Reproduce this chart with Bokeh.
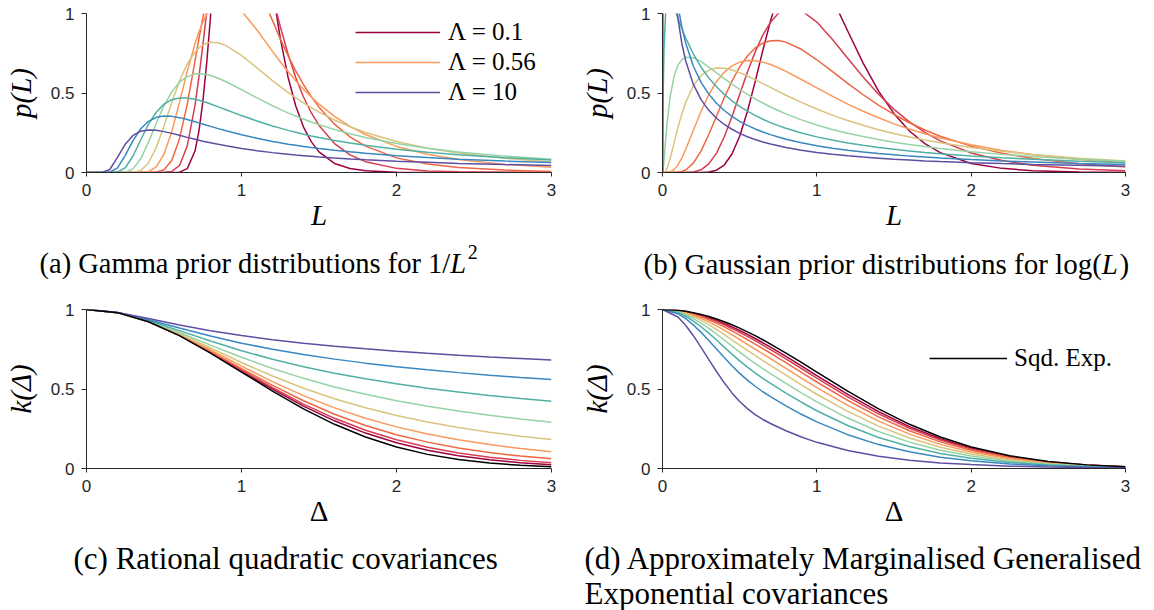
from bokeh.embed import file_html
from bokeh.resources import INLINE
from bokeh.layouts import column, row
from bokeh.models import Range1d, FixedTicker, Legend, LegendItem, Label
from bokeh.plotting import figure

# ---------------------------------------------------------------- data
# Prior scale values Λ, one curve per value, drawn in this colour order.
LAMBDA = [0.1, 0.178, 0.316, 0.562, 1.0, 1.78, 3.16, 5.62, 10.0]
LINE_COLORS = ["#9e0142", "#d53e4f", "#ef6643", "#f99a5a", "#d8c47e",
               "#95d3a5", "#50b0a4", "#3987c0", "#5e4fa2"]

X_TICKS = [0, 1, 2, 3]
X_TICK_LABELS = ["0", "1", "2", "3"]
Y_TICKS = [0, 0.5, 1]
Y_TICK_LABELS = ["0", "0.5", "1"]

LEGEND_A = [("Λ = 0.1", 0), ("Λ = 0.56", 3), ("Λ = 10", 8)]
LEGEND_D = "Sqd. Exp."

# captions as (text, style) runs
CAPTION_A = [("(a) Gamma prior distributions for 1/", "normal"), ("L", "italic"), ("2", "sup")]
CAPTION_B = [("(b) Gaussian prior distributions for log(", "normal"), ("L", "italic"), (")", "normal")]
CAPTION_C = [("(c) Rational quadratic covariances", "normal")]
CAPTION_D1 = [("(d) Approximately Marginalised Generalised", "normal")]
CAPTION_D2 = [("Exponential covariances", "normal")]

# (a) p(L) under Gamma priors on 1/L^2
L_A = [0, 0.1, 0.15, 0.2, 0.25, 0.3, 0.35, 0.4, 0.45, 0.5, 0.55, 0.6, 0.65, 0.7,
       0.725, 0.75, 0.775, 0.8, 0.85, 0.9, 1.0, 1.1, 1.2, 1.25, 1.3, 1.35, 1.4,
       1.45, 1.5, 1.6, 1.7, 1.8, 2.0, 2.2, 2.4, 2.7, 3.0]
PA_0_1 = [0, 0, 0, 0, 0, 0, 0, 0, 0, 0, 0.0001, 0.0022, 0.0246, 0.135, 0.258,
          0.441, 0.684, 0.978, 1.631, 2.19, 2.50, 1.92, 1.155, 0.845, 0.601,
          0.418, 0.286, 0.194, 0.130, 0.057, 0.025, 0.011, 0.002, 0.0005, 0, 0, 0]
PA_0_18 = [0, 0, 0, 0, 0, 0, 0, 0, 0, 0.0004, 0.0066, 0.044, 0.167, 0.422,
           0.598, 0.796, 1.005, 1.212, 1.573, 1.811, 1.864, 1.539, 1.114, 0.918,
           0.745, 0.598, 0.475, 0.376, 0.296, 0.182, 0.111, 0.068, 0.026,
           0.010, 0.004, 0.001, 0.0004]
PA_0_32 = [0, 0, 0, 0, 0, 0, 0, 0.0001, 0.0019, 0.0168, 0.075, 0.211, 0.430,
           0.701, 0.839, 0.971, 1.092, 1.196, 1.349, 1.424, 1.382, 1.190, 0.955,
           0.841, 0.735, 0.639, 0.553, 0.477, 0.411, 0.304, 0.224, 0.166,
           0.092, 0.053, 0.031, 0.015, 0.007]
PA_0_56 = [0, 0, 0, 0, 0, 0, 0.0004, 0.0058, 0.035, 0.115, 0.256, 0.441, 0.636,
           0.810, 0.883, 0.945, 0.994, 1.032, 1.076, 1.082, 1.016, 0.896, 0.762,
           0.697, 0.635, 0.577, 0.524, 0.475, 0.430, 0.353, 0.290, 0.239,
           0.164, 0.115, 0.082, 0.051, 0.033]
PA_1 = [0, 0, 0, 0, 0, 0.0011, 0.013, 0.060, 0.157, 0.293, 0.441, 0.576, 0.683,
        0.758, 0.783, 0.801, 0.813, 0.819, 0.816, 0.798, 0.736, 0.658, 0.578,
        0.540, 0.504, 0.470, 0.438, 0.408, 0.380, 0.330, 0.288, 0.252, 0.195,
        0.153, 0.122, 0.089, 0.066]
PA_1_8 = [0, 0, 0, 0, 0.002, 0.023, 0.086, 0.191, 0.310, 0.421, 0.507, 0.568,
          0.603, 0.619, 0.621, 0.620, 0.616, 0.610, 0.593, 0.571, 0.521, 0.469,
          0.420, 0.397, 0.375, 0.355, 0.336, 0.318, 0.301, 0.270, 0.244, 0.220,
          0.182, 0.152, 0.129, 0.103, 0.083]
PA_3_2 = [0, 0, 0, 0.0025, 0.030, 0.104, 0.206, 0.304, 0.379, 0.430, 0.458,
          0.469, 0.469, 0.461, 0.455, 0.447, 0.440, 0.431, 0.413, 0.395, 0.358,
          0.324, 0.293, 0.279, 0.265, 0.253, 0.241, 0.230, 0.220, 0.201, 0.185,
          0.171, 0.146, 0.127, 0.111, 0.093, 0.079]
PA_5_6 = [0, 0, 0.0014, 0.029, 0.108, 0.201, 0.275, 0.322, 0.347, 0.356, 0.353,
          0.345, 0.333, 0.319, 0.312, 0.305, 0.297, 0.290, 0.276, 0.262, 0.237,
          0.215, 0.195, 0.187, 0.178, 0.171, 0.164, 0.157, 0.151, 0.140, 0.130,
          0.121, 0.106, 0.094, 0.084, 0.072, 0.063]
PA_10 = [0, 0.0001, 0.019, 0.095, 0.178, 0.233, 0.260, 0.268, 0.266, 0.257,
         0.246, 0.234, 0.221, 0.209, 0.203, 0.197, 0.192, 0.187, 0.177, 0.168,
         0.151, 0.137, 0.125, 0.120, 0.115, 0.110, 0.106, 0.102, 0.098, 0.091,
         0.085, 0.080, 0.071, 0.064, 0.057, 0.050, 0.044]

# (b) p(L) under Gaussian priors on log(L)
L_B = [0, 0.005, 0.01, 0.02, 0.03, 0.05, 0.075, 0.1, 0.125, 0.15, 0.2, 0.25,
       0.3, 0.35, 0.4, 0.45, 0.5, 0.55, 0.6, 0.65, 0.7, 0.75, 0.8, 0.9, 1.0,
       1.1, 1.2, 1.3, 1.4, 1.5, 1.6, 1.7, 1.8, 2.0, 2.2, 2.4, 2.7, 3.0]
PB_0_1 = [0, 0, 0, 0, 0, 0, 0, 0, 0, 0, 0, 0.0003, 0.003, 0.0146, 0.047, 0.116,
          0.228, 0.384, 0.570, 0.767, 0.954, 1.112, 1.229, 1.326, 1.262, 1.096,
          0.890, 0.688, 0.512, 0.370, 0.261, 0.182, 0.125, 0.057, 0.026, 0.011,
          0.003, 0.001]
PB_0_18 = [0, 0, 0, 0, 0, 0, 0, 0, 0, 0.0003, 0.0033, 0.017, 0.054, 0.122,
           0.223, 0.350, 0.490, 0.630, 0.757, 0.864, 0.945, 1.000, 1.028, 1.019,
           0.946, 0.838, 0.718, 0.600, 0.492, 0.397, 0.318, 0.252, 0.199, 0.123,
           0.075, 0.046, 0.022, 0.011]
PB_0_32 = [0, 0, 0, 0, 0, 0, 0.0002, 0.0016, 0.006, 0.016, 0.059, 0.136, 0.239,
           0.355, 0.470, 0.575, 0.664, 0.733, 0.783, 0.814, 0.829, 0.830, 0.820,
           0.775, 0.709, 0.636, 0.561, 0.489, 0.424, 0.365, 0.313, 0.267, 0.228,
           0.166, 0.121, 0.088, 0.055, 0.035]
PB_0_56 = [0, 0, 0, 0, 0.0003, 0.0036, 0.018, 0.048, 0.091, 0.145, 0.266, 0.385,
           0.489, 0.571, 0.630, 0.671, 0.694, 0.704, 0.703, 0.694, 0.679, 0.659,
           0.636, 0.585, 0.532, 0.480, 0.430, 0.385, 0.344, 0.306, 0.273, 0.244,
           0.217, 0.174, 0.139, 0.112, 0.082, 0.061]
PB_1 = [0, 0.0001, 0.001, 0.0095, 0.028, 0.090, 0.186, 0.282, 0.367, 0.440,
        0.546, 0.610, 0.644, 0.657, 0.655, 0.645, 0.628, 0.607, 0.584, 0.559,
        0.535, 0.510, 0.486, 0.441, 0.399, 0.361, 0.327, 0.297, 0.269, 0.245,
        0.223, 0.204, 0.187, 0.157, 0.133, 0.113, 0.090, 0.073]
PB_1_8 = [0, 0.022, 0.077, 0.202, 0.314, 0.480, 0.605, 0.674, 0.710, 0.725,
          0.722, 0.697, 0.663, 0.627, 0.591, 0.556, 0.523, 0.492, 0.463, 0.437,
          0.412, 0.390, 0.369, 0.331, 0.299, 0.271, 0.247, 0.226, 0.207, 0.190,
          0.176, 0.163, 0.151, 0.131, 0.114, 0.101, 0.084, 0.071]
PB_3_2 = [0, 0.530, 0.785, 0.998, 1.070, 1.086, 1.035, 0.970, 0.906, 0.847,
          0.745, 0.662, 0.595, 0.539, 0.491, 0.451, 0.416, 0.386, 0.359, 0.335,
          0.314, 0.295, 0.278, 0.249, 0.224, 0.204, 0.186, 0.171, 0.157, 0.146,
          0.135, 0.126, 0.118, 0.104, 0.092, 0.083, 0.071, 0.062]
PB_5_6 = [0, 2.77, 2.55, 2.16, 1.88, 1.52, 1.235, 1.050, 0.916, 0.814, 0.668,
          0.567, 0.493, 0.436, 0.390, 0.353, 0.322, 0.296, 0.274, 0.255, 0.238,
          0.223, 0.209, 0.187, 0.168, 0.153, 0.140, 0.129, 0.119, 0.111, 0.103,
          0.097, 0.091, 0.081, 0.072, 0.066, 0.057, 0.050]
PB_10 = [0, 6.20, 4.37, 2.94, 2.27, 1.61, 1.203, 0.968, 0.813, 0.703, 0.554,
         0.458, 0.391, 0.341, 0.302, 0.272, 0.246, 0.225, 0.208, 0.192, 0.179,
         0.168, 0.157, 0.140, 0.126, 0.115, 0.105, 0.097, 0.090, 0.083, 0.078,
         0.073, 0.069, 0.062, 0.056, 0.051, 0.045, 0.040]

# (c) rational quadratic covariances k(Δ)
D_C = [0, 0.2, 0.4, 0.6, 0.8, 1.0, 1.2, 1.4, 1.6, 1.8, 2.0, 2.2, 2.4, 2.6, 2.8, 3.0]
KC_0_1 = [1, 0.9802, 0.9234, 0.8366, 0.7298, 0.6139, 0.4989, 0.3926, 0.2999,
          0.2228, 0.1615, 0.1145, 0.0796, 0.0544, 0.0366, 0.0243]
KC_0_18 = [1, 0.9802, 0.9236, 0.8376, 0.7325, 0.6194, 0.5079, 0.4052, 0.3156,
           0.2408, 0.1807, 0.1336, 0.0977, 0.0709, 0.0511, 0.0367]
KC_0_32 = [1, 0.9803, 0.9240, 0.8394, 0.7372, 0.6286, 0.5227, 0.4259, 0.3414,
           0.2704, 0.2123, 0.1658, 0.1291, 0.1004, 0.0781, 0.0609]
KC_0_56 = [1, 0.9803, 0.9247, 0.8424, 0.7451, 0.6436, 0.5463, 0.4581, 0.3813,
           0.3161, 0.2618, 0.2171, 0.1804, 0.1505, 0.1261, 0.1061]
KC_1 = [1, 0.9804, 0.9259, 0.8475, 0.7576, 0.6667, 0.5814, 0.5051, 0.4386,
        0.3817, 0.3333, 0.2924, 0.2577, 0.2283, 0.2033, 0.1818]
KC_1_8 = [1, 0.9805, 0.9279, 0.8554, 0.7762, 0.6993, 0.6290, 0.5670, 0.5131,
          0.4665, 0.4262, 0.3913, 0.3610, 0.3345, 0.3112, 0.2906]
KC_3_2 = [1, 0.9808, 0.9312, 0.8672, 0.8017, 0.7409, 0.6871, 0.6401, 0.5993,
          0.5638, 0.5328, 0.5054, 0.4812, 0.4596, 0.4402, 0.4227]
KC_5_6 = [1, 0.9812, 0.9361, 0.8831, 0.8327, 0.7882, 0.7498, 0.7167, 0.6879,
          0.6627, 0.6405, 0.6207, 0.6030, 0.5870, 0.5724, 0.5591]
KC_10 = [1, 0.9819, 0.9429, 0.9022, 0.8663, 0.8360, 0.8103, 0.7882, 0.7691,
         0.7524, 0.7375, 0.7242, 0.7122, 0.7012, 0.6912, 0.6819]
KC_SE = [1, 0.9802, 0.9231, 0.8353, 0.7261, 0.6065, 0.4868, 0.3753, 0.2780,
         0.1979, 0.1353, 0.0889, 0.0561, 0.0340, 0.0198, 0.0111]

# (d) approximately marginalised generalised exponential covariances k(Δ)
D_D = [0, 0.1, 0.15, 0.2, 0.25, 0.3, 0.35, 0.4, 0.45, 0.5, 0.55, 0.6, 0.65, 0.7,
       0.8, 0.9, 1.0, 1.2, 1.4, 1.6, 1.8, 2.0, 2.25, 2.5, 2.75, 3.0]
KD_0_1 = [1, 0.9941, 0.9869, 0.9769, 0.9643, 0.9492, 0.9318, 0.9123, 0.8909,
          0.8678, 0.8433, 0.8175, 0.7907, 0.7630, 0.7052, 0.6453, 0.5847,
          0.4661, 0.3573, 0.2635, 0.1868, 0.1277, 0.0750, 0.0416, 0.0216, 0.0106]
KD_0_18 = [1, 0.9934, 0.9854, 0.9743, 0.9604, 0.9439, 0.9249, 0.9038, 0.8808,
           0.8563, 0.8306, 0.8038, 0.7762, 0.7479, 0.6893, 0.6290, 0.5684,
           0.4509, 0.3441, 0.2529, 0.1788, 0.1222, 0.0717, 0.0399, 0.0208, 0.0103]
KD_0_32 = [1, 0.9923, 0.9830, 0.9702, 0.9542, 0.9354, 0.9140, 0.8904, 0.8650,
           0.8384, 0.8109, 0.7827, 0.7539, 0.7249, 0.6652, 0.6044, 0.5440,
           0.4284, 0.3247, 0.2375, 0.1673, 0.1143, 0.0670, 0.0374, 0.0196, 0.0098]
KD_0_56 = [1, 0.9906, 0.9791, 0.9637, 0.9446, 0.9222, 0.8971, 0.8698, 0.8410,
           0.8113, 0.7813, 0.7511, 0.7208, 0.6909, 0.6300, 0.5690, 0.5091,
           0.3967, 0.2979, 0.2164, 0.1516, 0.1035, 0.0607, 0.0341, 0.0180, 0.0091]
KD_1 = [1, 0.9881, 0.9739, 0.9548, 0.9315, 0.9044, 0.8747, 0.8427, 0.8095,
        0.7762, 0.7434, 0.7108, 0.6790, 0.6482, 0.5866, 0.5257, 0.4670, 0.3593,
        0.2667, 0.1921, 0.1338, 0.0915, 0.0535, 0.0304, 0.0162, 0.0084]
KD_1_8 = [1, 0.9849, 0.9670, 0.9432, 0.9144, 0.8815, 0.8459, 0.8081, 0.7700,
          0.7323, 0.6964, 0.6617, 0.6285, 0.5971, 0.5352, 0.4754, 0.4187,
          0.3173, 0.2325, 0.1659, 0.1147, 0.0786, 0.0460, 0.0265, 0.0142, 0.0075]
KD_3_2 = [1, 0.9805, 0.9576, 0.9275, 0.8916, 0.8511, 0.8082, 0.7635, 0.7194,
          0.6771, 0.6380, 0.6011, 0.5669, 0.5354, 0.4745, 0.4168, 0.3633,
          0.2704, 0.1951, 0.1378, 0.0945, 0.0650, 0.0381, 0.0223, 0.0122, 0.0066]
KD_5_6 = [1, 0.9734, 0.9426, 0.9029, 0.8563, 0.8048, 0.7516, 0.6977, 0.6460,
          0.5984, 0.5559, 0.5173, 0.4827, 0.4521, 0.3942, 0.3409, 0.2929,
          0.2127, 0.1503, 0.1048, 0.0712, 0.0493, 0.0290, 0.0174, 0.0097, 0.0055]
KD_10 = [1, 0.9531, 0.9006, 0.8353, 0.7619, 0.6850, 0.6102, 0.5389, 0.4754,
         0.4212, 0.3769, 0.3394, 0.3083, 0.2830, 0.2374, 0.1979, 0.1645, 0.1131,
         0.0764, 0.0519, 0.0348, 0.0247, 0.0148, 0.0095, 0.0057, 0.0035]
KD_SE = [1, 0.9950, 0.9888, 0.9802, 0.9692, 0.9560, 0.9406, 0.9231, 0.9037,
         0.8825, 0.8596, 0.8353, 0.8096, 0.7827, 0.7261, 0.6670, 0.6065, 0.4868,
         0.3753, 0.2780, 0.1979, 0.1353, 0.0796, 0.0439, 0.0228, 0.0111]

SERIES_A = [PA_0_1, PA_0_18, PA_0_32, PA_0_56, PA_1, PA_1_8, PA_3_2, PA_5_6, PA_10]
SERIES_B = [PB_0_1, PB_0_18, PB_0_32, PB_0_56, PB_1, PB_1_8, PB_3_2, PB_5_6, PB_10]
SERIES_C = [KC_0_1, KC_0_18, KC_0_32, KC_0_56, KC_1, KC_1_8, KC_3_2, KC_5_6, KC_10]
SERIES_D = [KD_0_1, KD_0_18, KD_0_32, KD_0_56, KD_1, KD_1_8, KD_3_2, KD_5_6, KD_10]

# ---------------------------------------------------------------- styling
AXIS_GRAY = "#262626"
SERIF = "Liberation Serif"
SANS = "Liberation Sans"
LINE_W = 1.5
# advance widths (em) of the Liberation Serif glyphs used in the captions
GLYPH_EM = {"(": 0.333, ")": 0.333, " ": 0.25, "/": 0.278, "1": 0.5, "2": 0.5,
            "a": 0.444, "b": 0.5, "c": 0.444, "d": 0.5, "e": 0.444, "f": 0.333,
            "g": 0.5, "i": 0.278, "l": 0.278, "m": 0.778, "n": 0.5, "o": 0.5,
            "p": 0.5, "r": 0.333, "s": 0.389, "t": 0.278, "u": 0.5, "G": 0.722,
            "L": 0.556}


def make_panel(height, border, xlabel, ylabel, xlabel_style):
    left, right, top, bottom = border
    p = figure(width=577, height=height, x_range=Range1d(0, 3), y_range=Range1d(0, 1),
               output_backend="svg", toolbar_location=None,
               min_border_left=left, min_border_right=right,
               min_border_top=top, min_border_bottom=bottom)
    p.outline_line_color = None
    p.xgrid.visible = False
    p.ygrid.visible = False
    p.background_fill_color = "white"
    p.border_fill_color = "white"

    p.xaxis.ticker = FixedTicker(ticks=X_TICKS)
    p.xaxis.major_label_overrides = dict(zip(X_TICKS, X_TICK_LABELS))
    p.yaxis.ticker = FixedTicker(ticks=Y_TICKS)
    p.yaxis.major_label_overrides = dict(zip(Y_TICKS, Y_TICK_LABELS))
    for ax in (p.xaxis[0], p.yaxis[0]):
        ax.axis_line_color = AXIS_GRAY
        ax.axis_line_width = 1
        ax.major_tick_line_color = AXIS_GRAY
        ax.minor_tick_line_color = None
        ax.major_tick_in = 0
        ax.major_label_text_font = SANS
        ax.major_label_text_font_size = "17px"
        ax.major_label_text_color = AXIS_GRAY
        ax.major_label_standoff = 7
        ax.axis_label_text_font = SERIF
        ax.axis_label_text_font_size = "29px"
        ax.axis_label_text_color = "black"
    p.xaxis.major_tick_out = 4
    p.yaxis.major_tick_out = 5
    p.xaxis.axis_label = xlabel
    p.xaxis.axis_label_text_font_style = xlabel_style
    p.xaxis.axis_label_standoff = 0
    p.yaxis.axis_label = ylabel
    p.yaxis.axis_label_text_font_style = "italic"
    p.yaxis.axis_label_standoff = 11
    return p


def draw_family(p, x, series):
    return [p.line(x, ys, line_color=c, line_width=LINE_W)
            for ys, c in zip(series, LINE_COLORS)]


def caption_strip(height, lines):
    """A blank SVG strip holding caption lines; lines = [(x, baseline, size, runs)]."""
    p = figure(width=577, height=height, x_range=Range1d(0, 577), y_range=Range1d(0, height),
               x_axis_type=None, y_axis_type=None, output_backend="svg",
               toolbar_location=None, min_border=0)
    p.outline_line_color = None
    p.background_fill_color = "white"
    p.border_fill_color = "white"
    for x0, y0, base, runs in lines:
        x = x0
        for text, style in runs:
            size = base * (0.7 if style == "sup" else 1.0)
            p.add_layout(Label(x=x, y=y0 + (0.42 * base if style == "sup" else 0), text=text,
                               text_font=SERIF, text_font_size="%.1fpx" % size,
                               text_font_style="italic" if style == "italic" else "normal",
                               text_color="black", text_align="left",
                               text_baseline="alphabetic"))
            x += sum(GLYPH_EM.get(ch, 0.5) for ch in text) * size + (1.5 if style == "italic" else 0)
    return p


def legend(items, loc, glyph_w, standoff):
    return Legend(items=items, location=loc, orientation="vertical",
                  glyph_width=glyph_w, glyph_height=30, label_height=30,
                  spacing=0, padding=0, margin=0, label_standoff=standoff,
                  border_line_color=None, background_fill_alpha=0,
                  label_text_font=SERIF, label_text_font_size="25px",
                  label_text_color="black")


# (a)
pa = make_panel(240, (86, 26, 13, 68), "L", "p(L)", "italic")
rs_a = draw_family(pa, L_A, SERIES_A)
pa.add_layout(legend([LegendItem(label=t, renderers=[rs_a[i]]) for t, i in LEGEND_A],
                     (269, 65), 85, 8))

# (b)
pb = make_panel(240, (84, 29, 13, 68), "L", "p(L)", "italic")
draw_family(pb, L_B, SERIES_B)

# (c)
pc = make_panel(250, (86, 26, 19, 72), "Δ", "k(Δ)", "normal")
draw_family(pc, D_C, SERIES_C)
pc.line(D_C, KC_SE, line_color="black", line_width=LINE_W)

# (d)
pd = make_panel(250, (84, 29, 19, 72), "Δ", "k(Δ)", "normal")
draw_family(pd, D_D, SERIES_D)
se_d = pd.line(D_D, KD_SE, line_color="black", line_width=LINE_W)
pd.add_layout(legend([LegendItem(label=LEGEND_D, renderers=[se_d])], (267, 95), 78, 7))

cap_a = caption_strip(50, [(39, 27, 28.5, CAPTION_A)])
cap_b = caption_strip(50, [(66, 27, 29, CAPTION_B)])
cap_c = caption_strip(70, [(73, 52, 31, CAPTION_C)])
cap_d = caption_strip(70, [(7, 52, 31, CAPTION_D1), (7, 17, 31, CAPTION_D2)])

layout = column(row(pa, pb), row(cap_a, cap_b), row(pc, pd), row(cap_c, cap_d))
open("out.html", "w").write(file_html(layout, INLINE))
